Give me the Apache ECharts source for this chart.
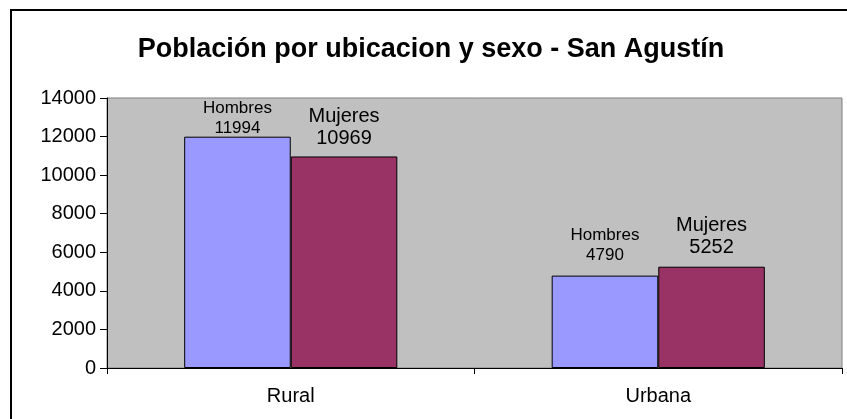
<!DOCTYPE html>
<html>
<head>
<meta charset="utf-8">
<script src="https://cdn.jsdelivr.net/npm/echarts@6/dist/echarts.min.js"></script>
<style>
	html, body { margin: 0; padding: 0; background: #fff; }
	#chart { width: 847px; height: 419px; }
</style>
</head>
<body>
<div id="chart"></div>
<script>
var categories = ['Rural', 'Urbana'];
var hombres = [11994, 4790];
var mujeres = [10969, 5252];
var yTicks = [0, 2000, 4000, 6000, 8000, 10000, 12000, 14000];

// Excel empuja la etiqueta de Hombres/Rural dentro del área
var hombresLabelDist = [-2, 10];
var mujeresLabelDist = [7, 8];

function buildData(values, dists) {
	var out = [];
	for (var i in values) {
		out.push({ value: values[i], label: { distance: dists[i] } });
	}
	return out;
}

var myChart = echarts.init(document.getElementById('chart'));

myChart.setOption({
	animation: false,
	textStyle: { fontFamily: 'Liberation Sans, Arial, sans-serif' },
	title: {
		text: 'Población por ubicacion y sexo - San Agustín',
		left: 426,
		top: 31,
		textAlign: 'center',
		textStyle: { fontSize: 27, fontWeight: 'bold', color: '#000', fontFamily: 'Liberation Sans, Arial, sans-serif' }
	},
	graphic: [{
		type: 'rect',
		shape: { x: 11, y: 10, width: 900, height: 500 },
		style: { fill: 'none', stroke: '#000', lineWidth: 2 },
		silent: true
	}],
	grid: {
		left: 107,
		right: 5,
		top: 98,
		bottom: 51,
		show: true,
		backgroundColor: '#C0C0C0',
		borderColor: '#808080',
		borderWidth: 1
	},
	xAxis: {
		type: 'category',
		data: categories,
		axisLine: { lineStyle: { color: '#000', width: 1 } },
		axisTick: { show: true, length: 6, lineStyle: { color: '#000' } },
		axisLabel: { fontSize: 20, color: '#000', margin: 18 }
	},
	yAxis: {
		type: 'value',
		min: yTicks[0],
		max: yTicks[yTicks.length - 1],
		interval: 2000,
		axisLine: { show: true, lineStyle: { color: '#000', width: 1 } },
		axisTick: { show: true, length: 7, lineStyle: { color: '#000' } },
		splitLine: { show: false },
		axisLabel: {
			fontSize: 20,
			color: '#000',
			margin: 11,
			formatter: function (v) { return String(v); }
		}
	},
	series: [{
		name: 'Hombres',
		type: 'bar',
		data: buildData(hombres, hombresLabelDist),
		barGap: '0%',
		barCategoryGap: '42%',
		itemStyle: { color: '#9999FF', borderColor: '#000', borderWidth: 1 },
		label: {
			show: true,
			position: 'top',
			formatter: '{a}\n{c}',
			fontSize: 17,
			lineHeight: 20,
			color: '#000'
		}
	}, {
		name: 'Mujeres',
		type: 'bar',
		data: buildData(mujeres, mujeresLabelDist),
		itemStyle: { color: '#993366', borderColor: '#000', borderWidth: 1 },
		label: {
			show: true,
			position: 'top',
			formatter: '{a}\n{c}',
			fontSize: 20,
			lineHeight: 22,
			color: '#000'
		}
	}]
});
</script>
</body>
</html>
